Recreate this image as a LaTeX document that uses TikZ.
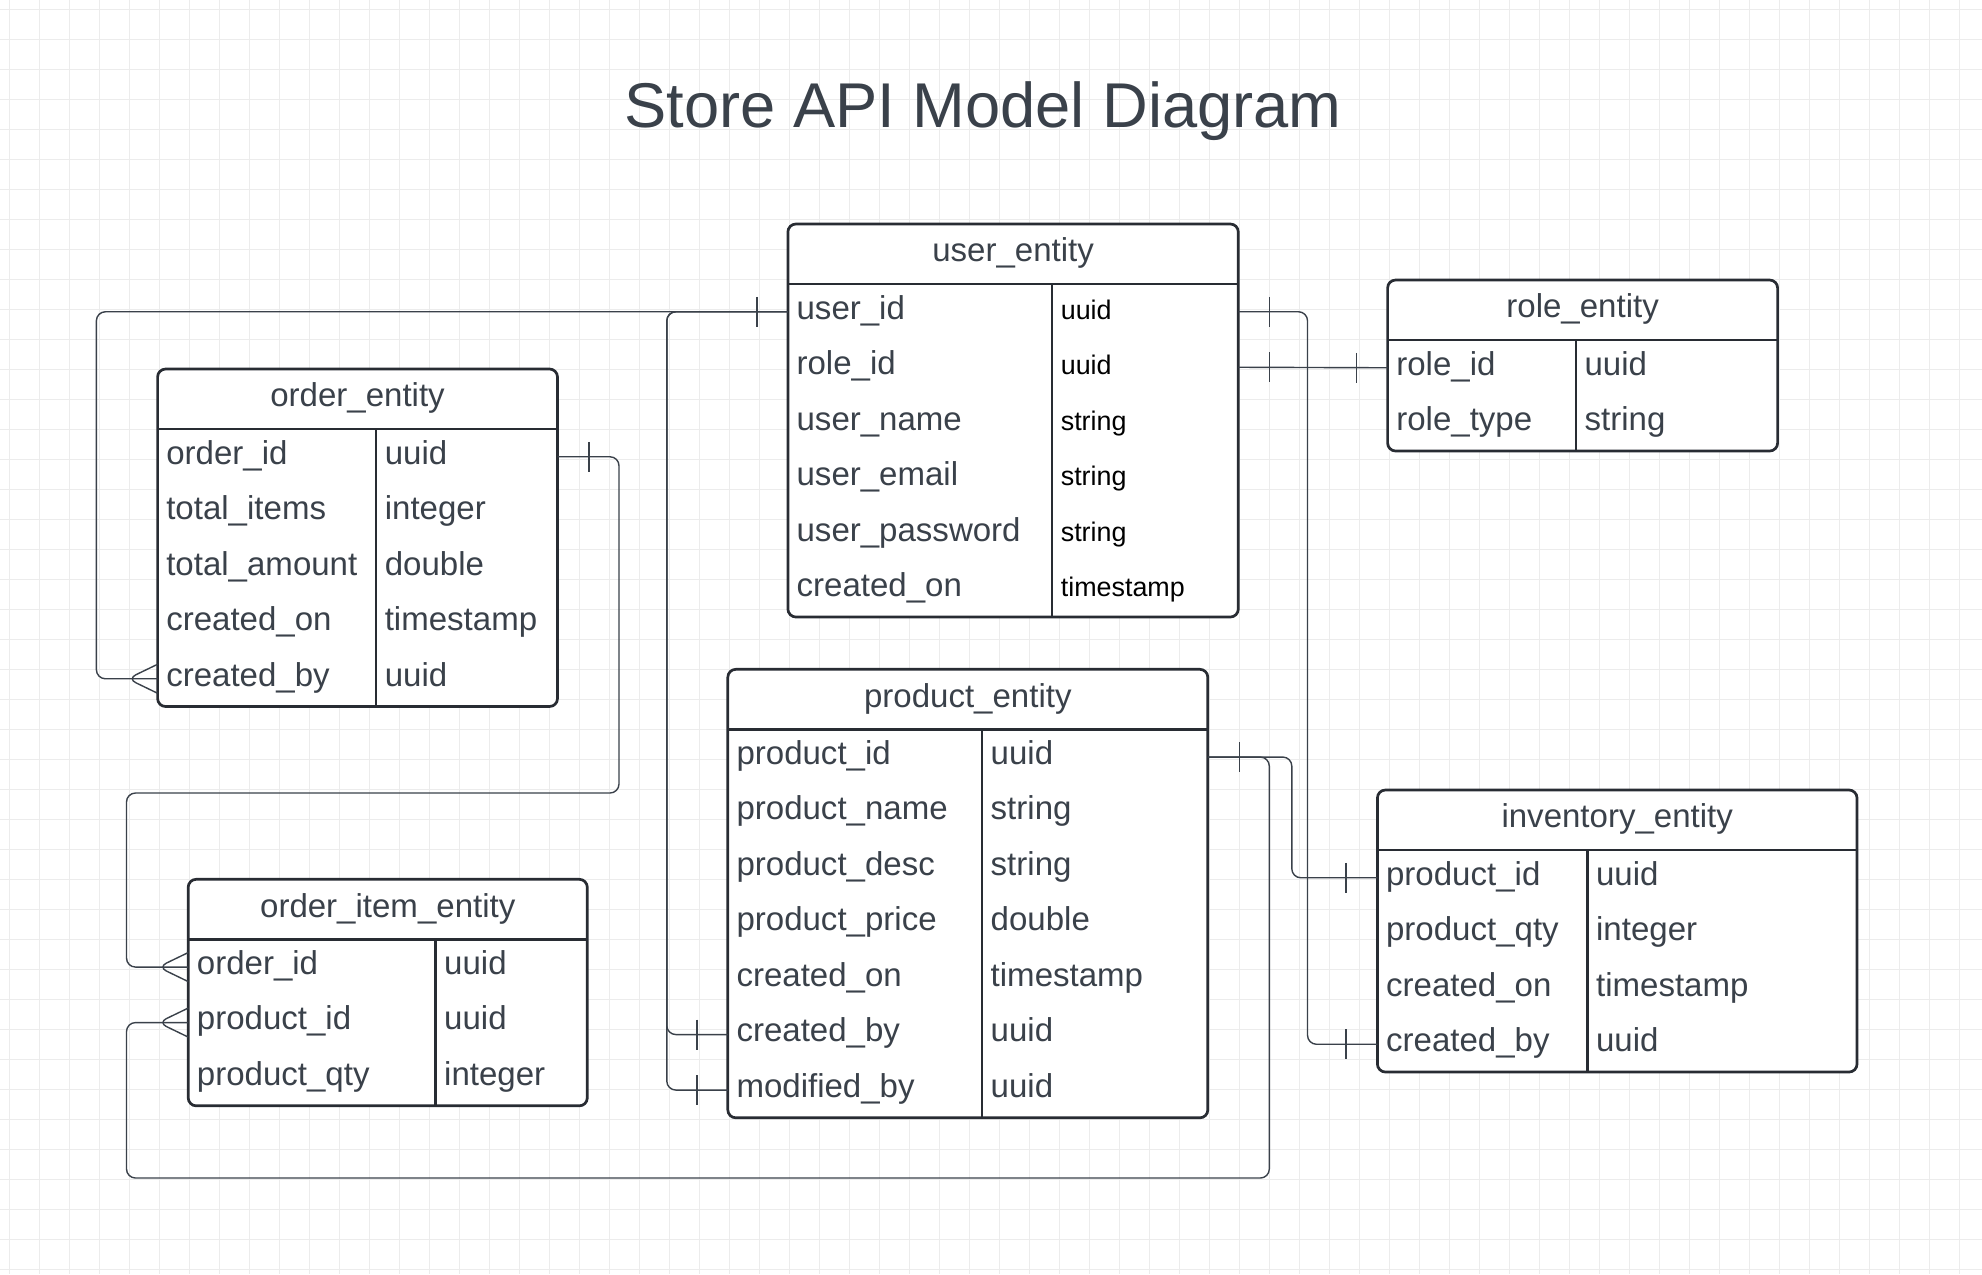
\documentclass[tikz,border=0pt]{standalone}
\usepackage{fontspec}
\setmainfont{Liberation Sans}
\usetikzlibrary{calc}

\definecolor{ink}{HTML}{3A414A}
\definecolor{rim}{HTML}{282C33}
\definecolor{gridcol}{HTML}{ECECEC}

% table: name, title, left, top, right, column line, fields
\newcommand{\entity}[7]{%
	\node[headrow, minimum width={(#5-#3)*0.1mm}] (#1) at (#3,#4) {};
	\foreach \fld/\typ [count=\i] in {#7} {
		\node[fieldrow, minimum width={(#5-#3)*0.1mm}] (#1-\i) at (#3,{#4+4.5+55.5*\i}) {};
		\xdef\lastrow{\i}
	}
	\draw[frame, fill=white] (#1.north west) rectangle (#1-\lastrow.south east);
	\draw[frame] (#1.south west) -- (#1.south east);
	\draw[frame] (#6,0 |- #1.south) -- (#6,0 |- #1-\lastrow.south);
	\node[headtxt] (#1-title) at ($(#1.center)+(0,7.7)$) {#2};
	\foreach \fld/\typ [count=\i] in {#7} {
		\node[fieldtxt] (#1-\i-name) at ($(#1-\i.west)+(8,7.3)$) {\fld};
		\node[typetxt] (#1-\i-type) at ($(#1-\i.west)+(#6-#3+8,7.3)$) {\typ};
	}
}

\begin{document}
\begin{tikzpicture}[
		x=0.1mm, y=-0.1mm,
		gridline/.style={draw=gridcol, line width=0.1mm},
		frame/.style={draw=rim, line width=0.27mm, rounded corners=0.8mm},
		link/.style={draw=ink, line width=0.14mm, rounded corners=0.9mm},
		headrow/.style={anchor=north west, minimum height=6mm, inner sep=0, outer sep=0},
		fieldrow/.style={anchor=north west, minimum height=5.55mm, inner sep=0, outer sep=0},
		headtxt/.style={anchor=base, inner sep=0, text=ink, font=\fontsize{9.4}{11}\selectfont},
		fieldtxt/.style={anchor=base west, inner sep=0, text=ink, font=\fontsize{9.4}{11}\selectfont},
		typetxt/.style={anchor=base west, inner sep=0, text=ink, font=\fontsize{9.4}{11}\selectfont},
		one/.pic={\draw[link] (0,-15) -- (0,15);},
		many/.pic={\draw[link] (0,-14.5) -- (-30,0) -- (0,14.5);}
	]
	\fill[white] (0,0) rectangle (1982,1274);
	\useasboundingbox (0,0) rectangle (1982,1274);
	\foreach \g in {9,39,...,1979}
		\draw[gridline] (\g,0) -- (\g,1274);
	\foreach \g in {9,39,...,1269}
		\draw[gridline] (0,\g) -- (1982,\g);

	\node[anchor=base, inner sep=0, text=ink, font=\fontsize{18}{22}\selectfont] (title) at (983,127.7) {Store API Model Diagram};

	\begin{scope}[typetxt/.append style={text=black, font=\fontsize{7.65}{9}\selectfont}]
		\entity{user}{user\_entity}{787.9}{224}{1238.3}{1052.1}{user\_id/uuid, role\_id/uuid, user\_name/string, user\_email/string, user\_password/string, created\_on/timestamp}
	\end{scope}
	\entity{role}{role\_entity}{1387.6}{280}{1777.6}{1575.9}{role\_id/uuid, role\_type/string}
	\entity{order}{order\_entity}{157.6}{369}{557.5}{376.1}{order\_id/uuid, total\_items/integer, total\_amount/double, created\_on/timestamp, created\_by/uuid}
	\entity{item}{order\_item\_entity}{188.2}{879.3}{587.3}{435.5}{order\_id/uuid, product\_id/uuid, product\_qty/integer}
	\entity{product}{product\_entity}{727.8}{669.3}{1207.8}{982}{product\_id/uuid, product\_name/string, product\_desc/string, product\_price/double, created\_on/timestamp, created\_by/uuid, modified\_by/uuid}
	\entity{inventory}{inventory\_entity}{1377.4}{790}{1857}{1587.4}{product\_id/uuid, product\_qty/integer, created\_on/timestamp, created\_by/uuid}

	% user links
	\draw[link] (user-1.west) -| ($(order-5.west)+(-61.2,0)$) -- (order-5.west);
	\draw[link] (user-1.west) -| ($(product-6.west)+(-61,0)$) -- (product-6.west);
	\draw[link] (user-1.west) -| ($(product-7.west)+(-61,0)$) -- (product-7.west);
	\draw[link] (user-1.east) -- ++(69.2,0) |- (inventory-4.west);
	\draw[link] (user-2.east) -- (role-1.west);
	% order and product links
	\draw[link] (order-1.east) -| (619,793) -| ($(item-1.west)+(-61.7,0)$) -- (item-1.west);
	\draw[link] (product-1.east) -- ++(84,0) |- (inventory-1.west);
	\draw[link] (product-1.east) -| (1269.3,1178) -| ($(item-2.west)+(-61.7,0)$) -- (item-2.west);

	% ends
	\pic at ($(user-1.west)+(-31,0)$) {one};
	\pic at ($(user-1.east)+(31.3,0)$) {one};
	\pic at ($(user-2.east)+(31.3,0)$) {one};
	\pic at ($(role-1.west)+(-31,0)$) {one};
	\pic at ($(product-6.west)+(-31,0)$) {one};
	\pic at ($(product-7.west)+(-31,0)$) {one};
	\pic at ($(product-1.east)+(31.5,0)$) {one};
	\pic at ($(order-1.east)+(31.5,0)$) {one};
	\pic at ($(inventory-1.west)+(-31.4,0)$) {one};
	\pic at ($(inventory-4.west)+(-31.4,0)$) {one};
	\pic at (order-5.west) {many};
	\pic at (item-1.west) {many};
	\pic at (item-2.west) {many};
\end{tikzpicture}
\end{document}
